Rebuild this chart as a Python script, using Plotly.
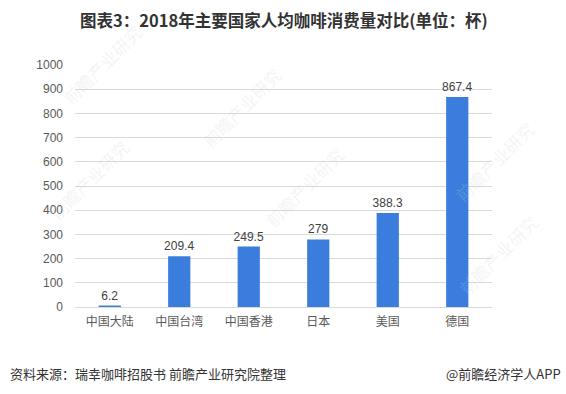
import plotly.graph_objects as go

categories = ["中国大陆", "中国台湾", "中国香港", "日本", "美国", "德国"]
values = [6.2, 209.4, 249.5, 279, 388.3, 867.4]
value_labels = ["6.2", "209.4", "249.5", "279", "388.3", "867.4"]
y_ticks = list(range(0, 1001, 100))

title_text = "图表3：2018年主要国家人均咖啡消费量对比(单位：杯)"
source_text = "资料来源：瑞幸咖啡招股书 前瞻产业研究院整理"
brand_text = "@前瞻经济学人APP"
watermark_text = "前瞻产业研究"

cjk = "Noto Sans CJK SC, sans-serif"
latin = "Liberation Sans, Arial, sans-serif"

fig = go.Figure()
fig.add_trace(go.Bar(
    x=categories,
    y=values,
    text=value_labels,
    textposition="outside",
    constraintext="none",
    textfont=dict(size=12, color="#404040", family=latin),
    marker=dict(color="#3b7ddd", line=dict(width=0)),
    cliponaxis=False,
    hoverinfo="skip",
))

# faint rotated watermarks (paper coordinates)
wm_pos = [(-0.05, 1.2), (0.4, 1.02), (1.12, 0.8), (-0.08, 0.33), (0.55, 0.5), (1.13, 0.02)]
annotations = []
for (wx, wy) in wm_pos:
    annotations.append(dict(
        text=watermark_text, xref="paper", yref="paper", x=wx, y=wy,
        showarrow=False, textangle=-45,
        font=dict(size=17, color="rgba(200,205,215,0.22)", family=cjk),
    ))

annotations += [
    dict(text="<b>" + title_text + "</b>", xref="paper", yref="paper",
         x=0.5, y=1.0, xanchor="center", yanchor="middle",
         yshift=45, showarrow=False,
         font=dict(size=16.5, color="#333333", family=cjk)),
    dict(text=source_text, xref="paper", yref="paper",
         x=0, y=0, xanchor="left", yanchor="middle",
         xshift=-67, yshift=-66, showarrow=False,
         font=dict(size=13, color="#333333", family=cjk)),
    dict(text=brand_text, xref="paper", yref="paper",
         x=1, y=0, xanchor="right", yanchor="middle",
         xshift=71, yshift=-66, showarrow=False,
         font=dict(size=13, color="#333333", family=cjk)),
]

fig.update_layout(
    width=566,
    height=394,
    margin=dict(l=75, r=74, t=65, b=87),
    paper_bgcolor="white",
    plot_bgcolor="white",
    bargap=0.68,
    showlegend=False,
    font=dict(family=cjk, color="#595959", size=12),
    xaxis=dict(
        showgrid=False,
        showline=True,
        linecolor="#d9d9d9",
        linewidth=1,
        ticks="",
        ticklabelstandoff=4,
        tickfont=dict(size=12, color="#595959", family=cjk),
        fixedrange=True,
        automargin=False,
    ),
    yaxis=dict(
        range=[0, 1000],
        tickvals=y_ticks,
        showgrid=True,
        gridcolor="#d9d9d9",
        gridwidth=1,
        zeroline=False,
        showline=False,
        ticks="",
        ticklabelstandoff=11,
        tickfont=dict(size=12, color="#595959", family=latin),
        fixedrange=True,
        automargin=False,
    ),
    annotations=annotations,
)

fig.write_html(
    "out.html",
    config={"displayModeBar": False, "staticPlot": True},
    post_script="document.body.style.margin='0';document.body.style.overflow='hidden';",
)
